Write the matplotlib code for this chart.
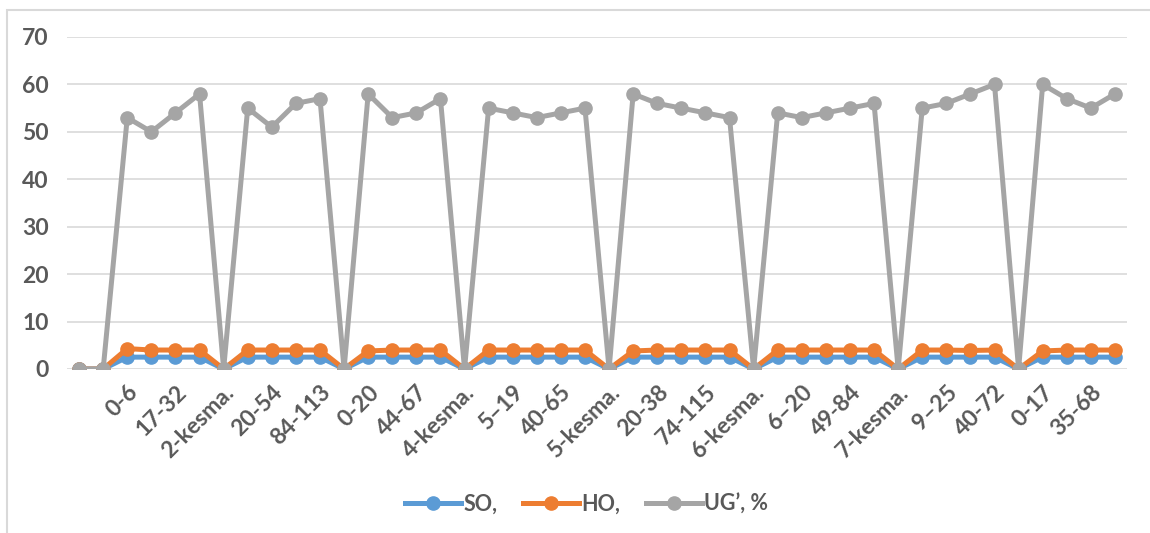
import matplotlib
matplotlib.use("Agg")
import matplotlib.pyplot as plt
from matplotlib.patches import Rectangle

categories = ['', '1-kesma.', '0-6', '', '17-32', '', '2-kesma.', '', '20-54', '', '84-113',
              '3-kesma.', '0-20', '', '44-67', '', '4-kesma.', '', '5\u201319', '', '40-65', '',
              '5-kesma.', '', '20-38', '', '74-115', '', '6-kesma.', '', '6\u201320', '', '49-84',
              '', '7-kesma.', '', '9\u201325', '', '40-72', '8-kesma.', '0-17', '', '35-68', '']

so = [0, 0, 2.5, 2.5, 2.5, 2.5, 0, 2.5, 2.5, 2.5, 2.5, 0, 2.5, 2.5, 2.5, 2.5, 0,
      2.5, 2.5, 2.5, 2.5, 2.5, 0, 2.5, 2.5, 2.5, 2.5, 2.5, 0, 2.5, 2.5, 2.5, 2.5, 2.5, 0,
      2.5, 2.5, 2.5, 2.5, 0, 2.5, 2.5, 2.5, 2.5]
ho = [0, 0, 4.3, 4.0, 4.0, 4.0, 0, 4.0, 4.0, 4.0, 4.0, 0, 3.8, 4.0, 4.0, 4.0, 0,
      4.0, 4.0, 4.0, 4.0, 4.0, 0, 3.8, 4.0, 4.0, 4.0, 4.0, 0, 4.0, 4.0, 4.0, 4.0, 4.0, 0,
      4.0, 4.0, 3.9, 4.0, 0, 3.8, 4.0, 4.0, 4.0]
ug = [0, 0, 53, 50, 54, 58, 0, 55, 51, 56, 57, 0, 58, 53, 54, 57, 0,
      55, 54, 53, 54, 55, 0, 58, 56, 55, 54, 53, 0, 54, 53, 54, 55, 56, 0,
      55, 56, 58, 60, 0, 60, 57, 55, 58]

series_names = ['SO,', 'HO,', 'UG\u2019, %']
colors = ['#5B9BD5', '#ED7D31', '#A5A5A5']
yticks = [0, 10, 20, 30, 40, 50, 60, 70]

plt.rcParams['font.family'] = ['Lato', 'DejaVu Sans']
txt = '#595959'
fs = 16.5

fig = plt.figure(figsize=(11.5, 5.33), dpi=100)
ax = fig.add_axes([0.0583, 0.3077, 0.9217, 0.6229])

x = list(range(len(categories)))
for vals, name, c in zip([so, ho, ug], series_names, colors):
    ax.plot(x, vals, color=c, lw=3.6, marker='o', markersize=9.5,
            markeredgecolor=c, label=name, solid_joinstyle='round')

ax.set_xlim(-0.5, len(categories) - 0.5)
ax.set_ylim(0, 70)
ax.set_yticks(yticks)
ax.set_yticklabels([str(v) for v in yticks], fontsize=fs, fontweight='bold', color=txt)
ax.yaxis.grid(True, color='#D9D9D9', lw=1.2)
ax.set_axisbelow(True)
for s in ax.spines.values():
    s.set_visible(False)
ax.tick_params(axis='y', length=0, pad=13)
ax.tick_params(axis='x', length=0, pad=9)

ticks = x[::2]
ax.set_xticks(ticks)
ax.set_xticklabels([categories[i] for i in ticks], rotation=45, ha='right',
                   rotation_mode='anchor', fontsize=fs, fontweight='bold', color=txt)

leg = fig.legend(loc='center', bbox_to_anchor=(0.51, 0.055), ncol=3, frameon=False,
                 prop={'size': 15.5, 'weight': 'bold'}, handlelength=2.6,
                 columnspacing=1.2, handletextpad=0.1)
for t in leg.get_texts():
    t.set_color(txt)

fig.patches.append(Rectangle((7 / 1150, -0.01), 1.2, 1 - 10 / 533 + 0.01,
                             transform=fig.transFigure,
                             fill=False, edgecolor='#D9D9D9', lw=1.5))

fig.savefig('out.png', dpi=100, facecolor='white')
